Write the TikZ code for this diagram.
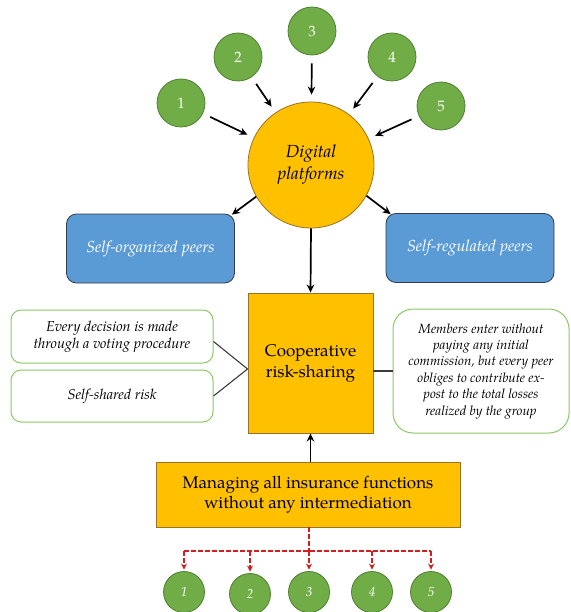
\documentclass[tikz,border=0pt]{standalone}
\usepackage{fontspec}
\setmainfont{texgyrepagella}[Extension=.otf, UprightFont=*-regular, ItalicFont=*-italic, BoldFont=*-bold, BoldItalicFont=*-bolditalic]
\usetikzlibrary{arrows.meta}

\definecolor{peergreen}{RGB}{112,173,71}
\definecolor{peeredge}{RGB}{80,126,50}
\definecolor{gold}{RGB}{255,192,0}
\definecolor{goldedge}{RGB}{150,115,40}
\definecolor{skyblue}{RGB}{91,155,213}
\definecolor{blueedge}{RGB}{50,60,75}
\definecolor{softgreen}{RGB}{140,200,100}
\definecolor{linkred}{RGB}{210,30,30}
\definecolor{linkgray}{RGB}{60,60,60}

\tikzset{
  peer/.style={circle, fill=peergreen, draw=peeredge, line width=0.8pt,
    minimum size=48pt, inner sep=0pt, text=white, font=\fontsize{15}{15}\selectfont},
  smallpeer/.style={circle, fill=peergreen, draw=peeredge, line width=0.8pt,
    minimum size=41pt, inner sep=0pt, text=white, font=\itshape\fontsize{13}{13}\selectfont},
  hub/.style={circle, fill=gold, draw=goldedge, line width=0.8pt,
    minimum size=126pt, inner sep=0pt, align=center,
    font=\itshape\fontsize{17.5}{22}\selectfont},
  bluebox/.style={rectangle, rounded corners=10pt, fill=skyblue, draw=blueedge,
    line width=0.8pt, minimum width=168pt, minimum height=69pt, inner sep=0pt,
    text=white, font=\itshape\fontsize{16}{18}\selectfont},
  goldbox/.style={rectangle, fill=gold, draw=goldedge, line width=0.9pt,
    inner sep=0pt, align=center},
  notebox/.style={rectangle, rounded corners=10pt, fill=white, draw=softgreen,
    line width=1pt, inner sep=0pt, align=center,
    font=\itshape\fontsize{14.4}{17}\selectfont},
  arr/.style={-{Stealth[length=8pt,width=7.5pt]}, line width=1.7pt, black},
  link/.style={line width=1.1pt, linkgray},
  redlink/.style={dashed, dash pattern=on 4.5pt off 2.5pt, line width=1.2pt, linkred},
  redarr/.style={redlink, -{Stealth[length=6pt,width=6pt]}}
}

\begin{document}
\begin{tikzpicture}[x=1pt, y=-1pt]
  \useasboundingbox (0,0) rectangle (570,612);

  % platform hub and its peers
  \node[hub] (dp) at (311,165) {Digital\\platforms};
  \node[peer] (t1) at (181,103) {1};
  \node[peer] (t2) at (238,57) {2};
  \node[peer] (t3) at (312,31) {3};
  \node[peer] (t4) at (392,57) {4};
  \node[peer] (t5) at (441,106) {5};
  \foreach \p in {t1,t2,t3,t4,t5}
    \draw[arr, shorten <=8pt, shorten >=7pt] (\p) -- (dp);

  % peer types
  \node[bluebox] (lb) at (150.5,248.5) {Self-organized peers};
  \node[bluebox] (rb) at (470,248) {Self-regulated peers};
  \draw[arr] (dp.210) -- ([xshift=-3pt,yshift=-1pt]lb.north east);
  \draw[arr] (dp.331) -- ([xshift=5pt,yshift=-1pt]rb.north west);

  % cooperative core
  \node[goldbox, minimum width=125pt, minimum height=140pt,
        font=\fontsize{17}{21}\selectfont] (coop) at (310.5,363) {Cooperative\\risk-sharing};
  \draw[arr] (dp.south) -- (coop.north);

  % rules of the group
  \node[notebox, minimum width=202pt, minimum height=53pt] (n1) at (112,336.5)
    {Every decision is made\\through a voting procedure};
  \node[notebox, minimum width=202pt, minimum height=52pt] (n2) at (112,396)
    {Self-shared risk};
  \node[notebox, rounded corners=20pt, minimum width=176pt, minimum height=124pt,
        font=\itshape\fontsize{13.3}{16.4}\selectfont] (n3) at (481,371)
    {Members enter without\\paying any initial\\commission, but every peer\\obliges to contribute ex-\\post to the total losses\\realized by the group};

  \coordinate (join) at ([yshift=-6pt]coop.west);
  \draw[link] ([yshift=-5pt]n1.east) -- (join);
  \draw[link] (n2.east) -- (join);
  \draw[link] (coop.east |- n3.west) -- (n3.west);

  % management layer
  \node[goldbox, minimum width=304pt, minimum height=65pt,
        font=\fontsize{17}{20}\selectfont] (mg) at (308,494.5)
    {Managing all insurance functions\\without any intermediation};
  \draw[arr] (mg.north -| coop.south) -- (coop.south);

  % members reached without intermediation
  \node[smallpeer] (b1) at (184,592) {1};
  \node[smallpeer] (b2) at (250,594) {2};
  \node[smallpeer] (b3) at (309,592) {3};
  \node[smallpeer] (b4) at (372,592) {4};
  \node[smallpeer] (b5) at (431,592) {5};

  \coordinate (split) at (309,551);
  \draw[redlink] (mg.south -| split) -- (split);
  \draw[redlink] (split -| b1) -- (split -| b5);
  \foreach \b in {b1,b2,b3,b4,b5}
    \draw[redarr, shorten >=1.5pt] (split -| \b) -- (\b);
\end{tikzpicture}
\end{document}
